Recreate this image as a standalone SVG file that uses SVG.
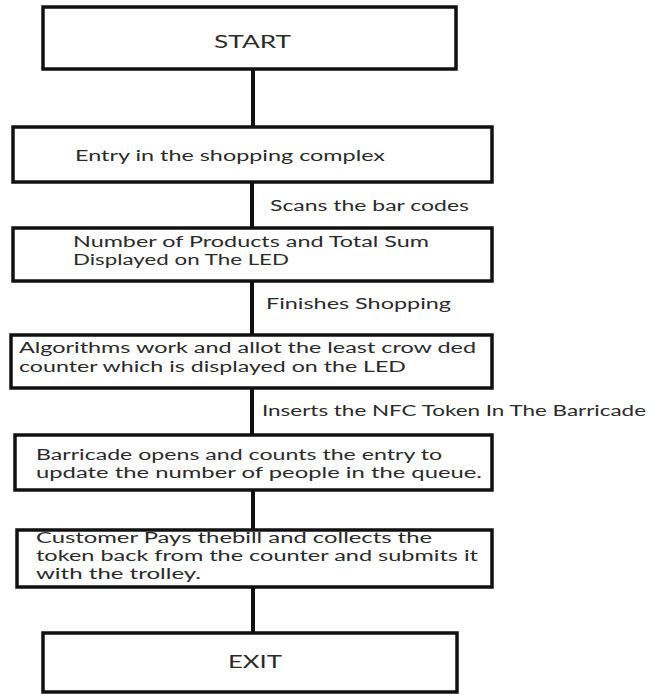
<svg xmlns="http://www.w3.org/2000/svg" width="657" height="694" viewBox="0 0 657 694">
<style>
.box{fill:#fff;stroke:#111;stroke-width:3.5}
.con{stroke:#111;stroke-width:4;fill:none}
text{font-family:Lato,"Open Sans","Liberation Sans",sans-serif;fill:#2a2a2a;font-size:14.5px}
.big{font-size:17px}
</style>
<rect width="657" height="694" fill="#fff"/>
<g id="connectors">
<line class="con" x1="253" y1="69" x2="253" y2="127"/>
<line class="con" x1="252" y1="182" x2="252" y2="228"/>
<line class="con" x1="252" y1="281" x2="252" y2="335"/>
<line class="con" x1="252" y1="388" x2="252" y2="435"/>
<line class="con" x1="253" y1="490" x2="253" y2="530"/>
<line class="con" x1="253" y1="587" x2="253" y2="633"/>
</g>
<g id="labels">
<text x="270" y="211" textLength="199" lengthAdjust="spacingAndGlyphs">Scans the bar codes</text>
<text x="266" y="309" textLength="185" lengthAdjust="spacingAndGlyphs">Finishes Shopping</text>
<text x="262" y="416" textLength="384" lengthAdjust="spacingAndGlyphs">Inserts the NFC Token In The Barricade</text>
</g>
<g id="start">
<rect class="box" x="43" y="7" width="413" height="62"/>
<text class="big" x="214" y="48" textLength="77" lengthAdjust="spacingAndGlyphs">START</text>
</g>
<g id="entry">
<rect class="box" x="13" y="127" width="479" height="55"/>
<text x="75" y="161" textLength="310" lengthAdjust="spacingAndGlyphs">Entry in the shopping complex</text>
</g>
<g id="display">
<rect class="box" x="13" y="228" width="479" height="53"/>
<text x="73" y="247" textLength="356" lengthAdjust="spacingAndGlyphs">Number of Products and Total Sum</text>
<text x="73" y="265" textLength="216" lengthAdjust="spacingAndGlyphs">Displayed on The LED</text>
</g>
<g id="algorithm">
<rect class="box" x="11" y="335" width="481" height="53"/>
<text x="19" y="353" textLength="457" lengthAdjust="spacingAndGlyphs">Algorithms work and allot the least crow ded</text>
<text x="19" y="372" textLength="387" lengthAdjust="spacingAndGlyphs">counter which is displayed on the LED</text>
</g>
<g id="barricade">
<rect class="box" x="15" y="435" width="477" height="55"/>
<text x="36" y="460" textLength="406" lengthAdjust="spacingAndGlyphs">Barricade opens and counts the entry to</text>
<text x="36" y="478" textLength="446" lengthAdjust="spacingAndGlyphs">update the number of people in the queue.</text>
</g>
<g id="pay">
<rect class="box" x="17" y="530" width="475" height="57"/>
<text x="36" y="543" textLength="396" lengthAdjust="spacingAndGlyphs">Customer Pays thebill and collects the</text>
<text x="36" y="561" textLength="442" lengthAdjust="spacingAndGlyphs">token back from the counter and submits it</text>
<text x="36" y="579" textLength="165" lengthAdjust="spacingAndGlyphs">with the trolley.</text>
</g>
<g id="exit">
<rect class="box" x="43" y="633" width="414" height="59"/>
<text class="big" x="228" y="668" textLength="54" lengthAdjust="spacingAndGlyphs">EXIT</text>
</g>
</svg>
